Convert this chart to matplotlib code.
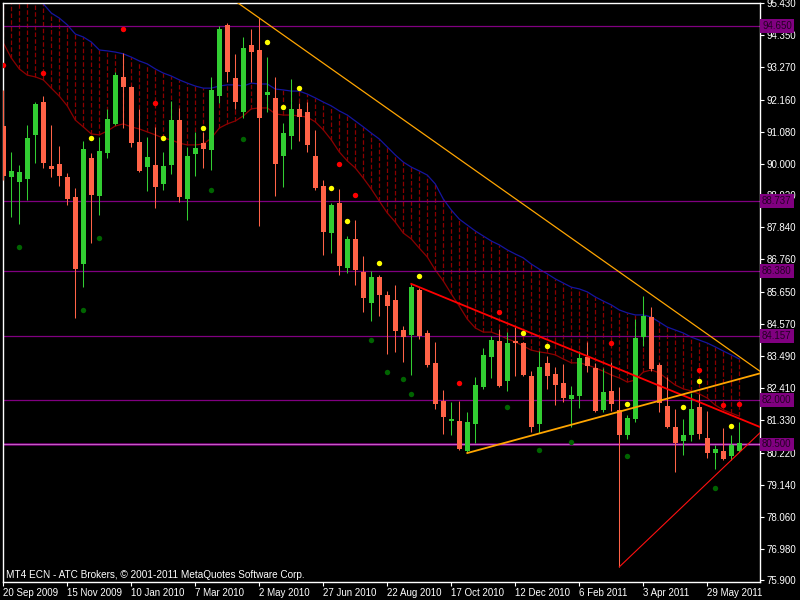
import matplotlib
matplotlib.use("Agg")
import matplotlib.pyplot as plt
import numpy as np

# weekly OHLC, bar 0 = week of 20 Sep 2009
opens = [91.27, 89.55, 89.38, 89.48, 90.97, 92.08, 89.92, 89.99, 89.55, 88.87,
         86.60, 90.19, 88.90, 90.36, 91.34, 92.93, 92.59, 90.73, 89.88, 89.95,
         89.31, 89.95, 91.47, 88.80, 90.32, 90.70, 90.46, 92.28, 94.69, 92.89,
         91.74, 94.01, 93.84, 92.32, 92.22, 90.26, 90.93, 91.85, 91.74, 90.26,
         89.24, 87.65, 88.67, 86.47, 87.45, 86.33, 85.28, 86.16, 85.56, 85.39,
         84.37, 84.20, 85.72, 84.27, 83.26, 81.97, 81.29, 81.29, 80.28, 81.19,
         82.44, 83.46, 84.00, 82.65, 84.00, 83.93, 82.82, 81.19, 83.26, 82.88,
         82.58, 82.04, 82.14, 83.46, 83.09, 81.67, 82.31, 81.67, 80.82, 81.36,
         84.13, 84.81, 83.19, 81.80, 81.09, 80.62, 80.82, 81.77, 80.72, 80.21,
         80.28, 80.11, 80.28]
highs = [92.49, 90.39, 89.95, 91.30, 92.08, 92.28, 91.30, 90.59, 89.68, 89.17,
         90.76, 90.36, 90.90, 91.85, 93.10, 93.74, 92.62, 91.85, 90.90, 91.24,
         90.39, 92.12, 91.88, 90.56, 91.07, 91.07, 92.93, 94.65, 94.75, 93.71,
         94.28, 94.55, 94.92, 93.60, 92.93, 91.37, 92.86, 92.05, 92.08, 91.14,
         89.44, 88.67, 89.14, 87.55, 88.09, 86.87, 86.37, 86.23, 85.69, 85.89,
         84.51, 85.93, 85.79, 84.37, 83.97, 82.34, 81.94, 81.97, 81.60, 82.78,
         83.76, 84.17, 84.41, 84.30, 84.47, 83.96, 82.98, 83.66, 83.49, 83.12,
         83.22, 82.48, 83.66, 83.97, 83.26, 83.09, 83.29, 82.44, 81.50, 84.74,
         85.52, 85.15, 83.26, 82.78, 81.70, 81.36, 82.24, 82.21, 81.63, 80.48,
         81.06, 80.82, 81.26]
lows = [89.44, 88.19, 87.96, 88.77, 90.02, 89.85, 89.55, 89.24, 88.60, 84.78,
        85.83, 87.31, 88.26, 90.19, 91.30, 91.20, 90.56, 89.72, 89.07, 88.50,
        89.11, 89.65, 88.70, 88.09, 89.58, 89.85, 89.78, 92.05, 92.76, 91.85,
        91.54, 92.76, 87.89, 91.74, 88.90, 89.21, 90.49, 90.76, 90.39, 89.11,
        86.91, 86.98, 86.23, 86.30, 85.89, 84.98, 84.68, 84.85, 83.56, 83.63,
        83.29, 82.85, 84.07, 83.12, 81.70, 80.85, 80.82, 80.32, 80.21, 80.55,
        82.38, 82.75, 82.45, 82.31, 82.82, 82.82, 80.92, 80.89, 82.38, 81.83,
        81.94, 81.09, 81.73, 82.95, 81.60, 81.60, 81.63, 76.36, 80.69, 81.26,
        83.83, 82.98, 81.60, 81.06, 79.57, 80.14, 80.62, 80.69, 80.04, 79.67,
        79.97, 79.97, 80.26]
closes = [89.58, 89.75, 89.71, 90.86, 92.01, 90.02, 89.82, 89.58, 88.80, 86.43,
          90.49, 88.94, 90.42, 91.51, 93.00, 92.59, 90.70, 89.75, 90.22, 89.21,
          89.92, 91.47, 88.87, 90.26, 90.53, 90.49, 92.49, 94.55, 93.10, 92.08,
          93.91, 93.77, 91.54, 92.42, 89.99, 91.03, 91.85, 91.57, 90.63, 89.17,
          87.69, 88.60, 86.54, 87.45, 86.40, 85.45, 86.16, 85.56, 85.18, 84.34,
          84.13, 85.83, 84.17, 83.19, 81.87, 81.43, 81.36, 80.35, 81.26, 82.51,
          83.53, 84.03, 82.48, 83.93, 83.93, 82.85, 81.09, 83.12, 82.82, 82.51,
          82.07, 82.17, 83.42, 83.15, 81.63, 82.27, 81.87, 80.82, 81.40, 84.10,
          84.85, 83.05, 81.90, 81.09, 80.55, 80.82, 81.70, 80.85, 80.21, 80.35,
          80.01, 80.48, 80.55]

# slow (blue) and fast (dark red) moving averages
blue_ma = [96.60, 96.35, 96.10, 95.85, 95.62, 95.40, 95.09, 94.92, 94.69, 94.38,
           94.28, 94.11, 93.84, 93.81, 93.77, 93.71, 93.60, 93.47, 93.37, 93.20,
           93.06, 92.96, 92.83, 92.72, 92.62, 92.55, 92.55, 92.62, 92.66, 92.66,
           92.62, 92.72, 92.69, 92.69, 92.52, 92.49, 92.45, 92.45, 92.35, 92.22,
           92.08, 91.95, 91.78, 91.64, 91.44, 91.24, 91.03, 90.83, 90.56, 90.29,
           90.05, 89.88, 89.75, 89.61, 89.31, 88.80, 88.43, 88.12, 87.92, 87.72,
           87.55, 87.38, 87.25, 87.08, 86.94, 86.81, 86.60, 86.43, 86.27, 86.10,
           85.96, 85.82, 85.76, 85.66, 85.49, 85.35, 85.22, 85.05, 84.95, 84.88,
           84.88, 84.81, 84.64, 84.47, 84.37, 84.27, 84.13, 84.03, 83.93, 83.80,
           83.66, 83.53, 83.39]
red_ma = [94.08, 93.57, 93.20, 92.99, 92.93, 92.83, 92.55, 92.28, 91.95, 91.47,
          91.24, 91.00, 90.97, 91.10, 91.27, 91.34, 91.24, 91.17, 91.07, 90.97,
          90.86, 90.80, 90.69, 90.63, 90.63, 90.66, 90.86, 91.20, 91.34, 91.44,
          91.61, 91.85, 91.88, 91.88, 91.68, 91.64, 91.64, 91.61, 91.57, 91.41,
          91.14, 90.80, 90.39, 90.09, 89.85, 89.51, 89.14, 88.73, 88.33, 88.02,
          87.65, 87.45, 87.14, 86.84, 86.40, 86.03, 85.59, 85.18, 84.74, 84.44,
          84.30, 84.30, 84.20, 84.07, 83.97, 83.83, 83.69, 83.63, 83.59, 83.53,
          83.39, 83.26, 83.26, 83.19, 83.09, 82.98, 82.85, 82.75, 82.61, 82.68,
          82.95, 83.02, 82.92, 82.71, 82.51, 82.38, 82.31, 82.21, 82.07, 81.83,
          81.67, 81.56, 81.46]

# signal dots
yellow_bars = [11, 20, 25, 33, 35, 37, 41, 43, 47, 52, 65, 68, 78, 85, 87, 91]
yellow_prices = [90.86, 90.86, 91.20, 94.11, 91.91, 92.55, 89.17, 88.06, 86.64,
                 86.20, 84.27, 83.83, 81.87, 81.77, 82.65, 81.12]
red_bars = [0, 5, 15, 19, 42, 44, 57, 62, 76, 87, 90, 92]
red_prices = [93.33, 93.06, 94.55, 92.05, 89.99, 88.94, 82.58, 84.98, 83.93,
              83.02, 81.83, 81.87]
green_bars = [2, 10, 12, 26, 30, 46, 48, 50, 51, 63, 67, 71, 78, 89]
green_prices = [87.18, 85.05, 87.48, 89.11, 90.83, 84.03, 82.95, 82.71, 82.21,
                81.77, 80.31, 80.58, 80.11, 79.03]

# horizontal levels
levels = [94.650, 88.737, 86.380, 84.157, 82.000]
level_main = 80.500

# trend lines (two anchor points each: bar index, price)
orange_down_bars = [32, 80]
orange_down_prices = [94.92, 85.76]
red_down_bars = [51, 80]
red_down_prices = [85.93, 82.71]
orange_up_bars = [58, 80]
orange_up_prices = [80.21, 81.83]
red_up_bars = [77, 91]
red_up_prices = [76.36, 79.97]

y_ticks = [95.430, 94.350, 93.270, 92.160, 91.080, 90.000, 88.920, 87.840,
           86.760, 85.650, 84.570, 83.490, 82.410, 81.330, 80.220, 79.140,
           78.060, 76.980, 75.900]
x_tick_labels = ["20 Sep 2009", "15 Nov 2009", "10 Jan 2010", "7 Mar 2010",
                 "2 May 2010", "27 Jun 2010", "22 Aug 2010", "17 Oct 2010",
                 "12 Dec 2010", "6 Feb 2011", "3 Apr 2011", "29 May 2011"]

plt.rcParams["font.family"] = ["Liberation Sans", "DejaVu Sans"]

BULL = "#32CD32"
BEAR = "#FF6347"
PURPLE = "#800080"


def ray(bars, prices, x_end, x_start=None):
    slope = (prices[1] - prices[0]) / (bars[1] - bars[0])
    x0 = bars[0] if x_start is None else x_start
    return [x0, x_end], [prices[0] + slope * (x0 - bars[0]),
                         prices[0] + slope * (x_end - bars[0])]


def main():
    fig = plt.figure(figsize=(8, 6), dpi=100, facecolor="black")
    ax = fig.add_axes([2.5 / 800, 18 / 600, 757.5 / 800, 579.5 / 600])
    ax.set_facecolor("black")

    n = len(opens)
    x = np.arange(n)
    o = np.array(opens)
    c = np.array(closes)

    # dashed fill between the averages
    ax.vlines(x, red_ma, blue_ma, colors="#8B0000", linestyles=(0, (3.6, 1.8)),
              lw=0.9, zorder=1)
    ax.plot(x, blue_ma, color="#1515A0", lw=0.9, zorder=2)
    ax.plot(x, red_ma, color="#8B0000", lw=0.9, zorder=2)

    for lvl in levels:
        ax.axhline(lvl, color=PURPLE, lw=0.9, zorder=2)
    ax.axhline(level_main, color=PURPLE, lw=1.8, zorder=2)
    ax.axhline(level_main, color="#D070D0", lw=0.6, zorder=2)

    # candles
    colors = [BULL if c[i] > o[i] else BEAR for i in range(n)]
    ax.vlines(x, lows, highs, colors=colors, lw=0.75, zorder=3)
    bottoms = np.minimum(o, c)
    heights = np.maximum(np.abs(c - o), 0.035)
    ax.bar(x, heights, bottom=bottoms, width=0.62, color=colors, lw=0, zorder=4)

    # trend lines
    xs, ys = ray(orange_down_bars, orange_down_prices, 97, x_start=28)
    ax.plot(xs, ys, color="#FFA500", lw=0.9, zorder=5)
    xs, ys = ray(red_down_bars, red_down_prices, 97)
    ax.plot(xs, ys, color="#FF0000", lw=1.3, zorder=5)
    xs, ys = ray(orange_up_bars, orange_up_prices, 97)
    ax.plot(xs, ys, color="#FFA500", lw=1.3, zorder=5)
    xs, ys = ray(red_up_bars, red_up_prices, 97)
    ax.plot(xs, ys, color="#FF1010", lw=0.8, zorder=5)

    # dots
    ax.scatter(yellow_bars, yellow_prices, s=15, color="#FFFF00", lw=0, zorder=6)
    ax.scatter(red_bars, red_prices, s=15, color="#FF0000", lw=0, zorder=6)
    ax.scatter(green_bars, green_prices, s=15, color="#006400", lw=0, zorder=6)

    ax.set_xlim(-0.1, 94.59)
    ax.set_ylim(75.849, 95.446)

    for side in ["left", "right", "top", "bottom"]:
        ax.spines[side].set_color("white")
        ax.spines[side].set_linewidth(1.0)

    ax.yaxis.tick_right()
    ax.set_yticks(y_ticks, [f"{v:.3f}" for v in y_ticks])
    ax.set_xticks(np.arange(len(x_tick_labels)) * 8, x_tick_labels)
    ax.tick_params(colors="white", labelcolor="white", labelsize=7,
                   length=3, width=0.8)
    ax.tick_params(axis="y", pad=1.5)
    ax.tick_params(axis="x", pad=1.5)
    for lbl in ax.get_xticklabels():
        lbl.set_ha("left")

    # level labels on the price scale
    for lvl in levels + [level_main]:
        ax.annotate(f"{lvl:.3f}", xy=(1, lvl), xycoords=("axes fraction", "data"),
                    xytext=(1.5, 0), textcoords="offset points", ha="left",
                    va="center", fontsize=7, color="#240024",
                    annotation_clip=False, zorder=10,
                    bbox=dict(boxstyle="square,pad=0.2", fc=PURPLE, ec="none"))

    fig.text(6 / 800, 1 - 575 / 600,
             "MT4 ECN - ATC Brokers, \u00a9 2001-2011 MetaQuotes Software Corp.",
             color="white", fontsize=7.2, va="center", ha="left")

    fig.savefig("out.png", dpi=100, facecolor="black")
    plt.close(fig)


if __name__ == "__main__":
    main()
